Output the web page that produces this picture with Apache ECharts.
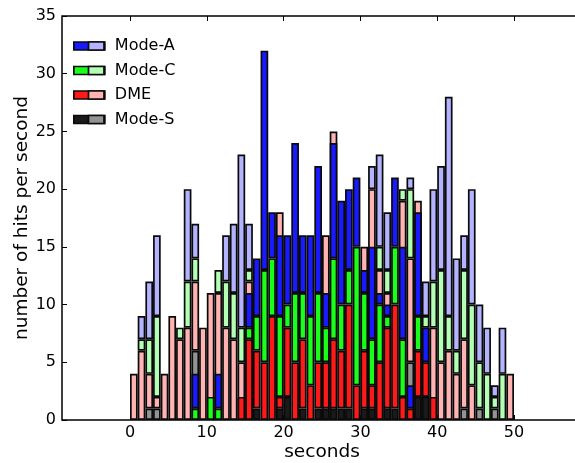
<!DOCTYPE html>
<html>
<head>
<meta charset="utf-8">
<script src="https://cdn.jsdelivr.net/npm/echarts@6/dist/echarts.min.js"></script>
<style>
html,body{margin:0;padding:0;background:#fff;}
#chart{width:575px;height:463px;}
</style>
</head>
<body>
<div id="chart"></div>
<script>
// one-second bins, starting second of each bin
const binStarts = [0,1,2,3,4,5,6,7,8,9,10,11,12,13,14,15,16,17,18,19,20,21,22,23,24,25,26,27,28,29,30,31,32,33,34,35,36,37,38,39,40,41,42,43,44,45,46,47,48,49];

// light (background) histogram, stacked S, DME, C, A
const lightModeS = [0,0,1,1,0,0,0,0,6,0, 0,0,0,0,0,0,0,0,0,0, 0,0,0,0,0,0,0,0,0,0, 0,0,0,0,0,0,5,0,0,0, 0,0,0,1,0,1,0,1,0,0];
const lightDME   = [4,6,3,1,4,9,7,8,6,8, 11,11,8,7,5,12,0,0,0,18, 0,0,0,0,0,16,25,0,0,0, 15,20,13,11,0,19,9,19,8,8, 5,6,4,6,3,0,0,0,0,4];
const lightModeC = [0,1,3,7,0,0,1,4,2,0, 0,2,4,4,3,1,0,0,0,0, 0,0,0,0,0,0,0,0,0,0, 0,0,2,2,0,1,6,0,1,4, 8,3,2,6,7,4,4,1,4,0];
const lightModeA = [0,2,5,7,0,0,0,8,3,0, 0,0,4,6,15,4,0,0,0,0, 0,0,0,0,0,0,0,0,0,0, 0,2,8,5,0,0,1,0,3,8, 9,19,8,3,10,5,4,1,4,0];

// dark (foreground) histogram, stacked S, DME, C, A
const darkModeS = [0,0,0,0,0,0,0,0,0,0, 0,0,0,0,0,0,1,0,0,1, 2,0,1,0,1,1,1,1,1,0, 1,1,0,1,1,0,0,2,2,0, 0,0,0,0,0,0,0,0,0,0];
const darkDME   = [0,0,0,0,0,0,0,0,0,0, 0,0,0,0,2,7,5,5,9,1, 6,5,6,3,4,4,6,5,9,3, 5,2,5,7,9,2,1,4,3,2, 0,0,0,0,0,0,0,0,0,0];
const darkModeC = [0,0,0,0,0,0,0,0,1,0, 2,1,0,0,0,1,3,8,5,7, 2,6,4,6,6,3,7,4,3,12, 5,4,5,1,5,5,0,3,0,0, 0,0,0,0,0,0,0,0,0,0];
const darkModeA = [0,0,0,0,0,0,0,0,3,0, 0,3,0,0,0,3,5,19,4,7, 6,13,5,7,11,3,10,9,7,6, 2,8,1,1,6,8,2,9,3,0, 0,0,0,0,0,0,0,0,0,0];

const seriesNames = ['Mode-S','DME','Mode-C','Mode-A'];
const legendOrder = ['Mode-A','Mode-C','DME','Mode-S'];
const xTicks = [0,10,20,30,40,50];

const darkColors  = {'Mode-S':'#1a1a1a','DME':'#ff1a1a','Mode-C':'#1aff1a','Mode-A':'#1a1aff'};
const lightColors = {'Mode-S':'#939393','DME':'#ffb3b3','Mode-C':'#b3ffb3','Mode-A':'#b3b3ff'};

const lightSets = [lightModeS, lightDME, lightModeC, lightModeA];
const darkSets  = [darkModeS, darkDME, darkModeC, darkModeA];

const FONT = 'DejaVu Sans';
const edge = '#0a0a0a';

function makeSeries(name, arr, stack, color){
  return {
    type:'bar', name:name, stack:stack,
    xAxisIndex:1, yAxisIndex:1,
    barWidth:'100%', barGap:'-100%', barCategoryGap:'0%',
    data: arr.map(v => v === 0 ? '-' : v),
    itemStyle:{color:color, borderColor:edge, borderWidth:1.7},
    emphasis:{disabled:true},
    silent:true
  };
}

const series = [];
seriesNames.forEach((n,i)=>series.push(makeSeries(n, lightSets[i], 'light', lightColors[n])));
seriesNames.forEach((n,i)=>series.push(makeSeries(n, darkSets[i], 'dark', darkColors[n])));

const PX0 = 130, PX50 = 514, LEFT = 62, RIGHT = 582;
const unit = (PX50 - PX0)/50;

const legendTop = 38, rowH = 16, rowStep = 24.5;
const graphics = legendOrder.map((n,i)=>({
  type:'rect', z:100,
  shape:{x:88.5, y:legendTop + rowH/2 + rowStep*i - 4, width:15.5, height:8},
  style:{fill:lightColors[n], stroke:edge, lineWidth:1.7}
}));

const chart = echarts.init(document.getElementById('chart'), null, {renderer:'canvas'});
chart.setOption({
  animation:false,
  backgroundColor:'#fff',
  grid:[
    {left:LEFT, top:16, width:RIGHT-LEFT, height:404, show:true, borderColor:'#000', borderWidth:1.5,
      backgroundColor:'transparent', containLabel:false, outerBoundsMode:'none'},
    {left:PX0, top:16, width:PX50-PX0, height:404, containLabel:false, outerBoundsMode:'none'}
  ],
  xAxis:[
    {gridIndex:0, type:'value', min:(LEFT-PX0)/unit, max:(RIGHT-PX0)/unit, show:false},
    {gridIndex:1, type:'category', data:binStarts, show:false, boundaryGap:true},
    {gridIndex:1, type:'value', min:xTicks[0], max:xTicks[xTicks.length-1], interval:10, position:'bottom',
      axisLine:{show:false, onZero:false}, splitLine:{show:false},
      axisTick:{show:true, inside:true, length:5, lineStyle:{color:'#000', width:1}},
      axisLabel:{fontSize:16, fontFamily:FONT, color:'#000', margin:5},
      name:'seconds', nameLocation:'middle', nameGap:23, nameMoveOverlap:false,
      nameTextStyle:{fontSize:18.5, fontFamily:FONT, color:'#000'}},
    {gridIndex:1, type:'value', min:xTicks[0], max:xTicks[xTicks.length-1], interval:10, position:'top',
      axisLine:{show:false, onZero:false}, splitLine:{show:false}, axisLabel:{show:false},
      axisTick:{show:true, inside:true, length:5, lineStyle:{color:'#000', width:1}}}
  ],
  yAxis:[
    {gridIndex:0, type:'value', min:0, max:35, interval:5,
      axisLine:{show:false, onZero:false}, splitLine:{show:false},
      axisTick:{show:true, inside:true, length:5, lineStyle:{color:'#000', width:1}},
      axisLabel:{fontSize:16, fontFamily:FONT, color:'#000', margin:6},
      name:'number of hits per second', nameLocation:'middle', nameGap:30, nameRotate:90, nameMoveOverlap:false,
      nameTextStyle:{fontSize:18.5, fontFamily:FONT, color:'#000'}},
    {gridIndex:1, type:'value', min:0, max:35, show:false, axisLine:{onZero:false}}
  ],
  legend:{
    show:true, orient:'vertical', left:73, top:legendTop, padding:0,
    itemWidth:31, itemHeight:8, itemGap:rowStep-rowH, icon:'rect', selectedMode:false,
    data: legendOrder.map(n=>({name:n, itemStyle:{color:darkColors[n], borderColor:edge, borderWidth:1.7}})),
    textStyle:{fontSize:16, fontFamily:FONT, color:'#000', lineHeight:rowH, padding:[0,0,0,5]}
  },
  graphic:graphics,
  series:series
});
</script>
</body>
</html>
